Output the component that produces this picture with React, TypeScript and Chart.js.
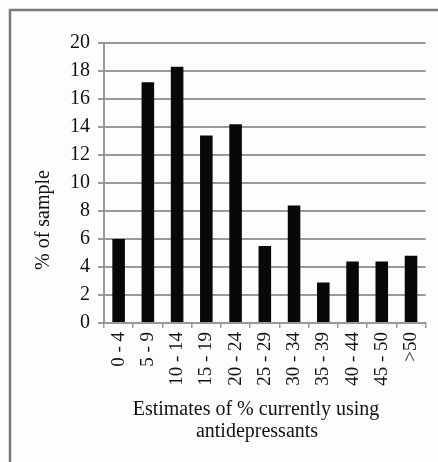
import React, { useEffect, useRef } from "react";
import { Chart, registerables } from "chart.js";

Chart.register(...registerables);

const categories = ["0 - 4", "5 - 9", "10 - 14", "15 - 19", "20 - 24", "25 - 29", "30 - 34", "35 - 39", "40 - 44", "45 - 50", ">50"];
const percentOfSample = [6.0, 17.2, 18.3, 13.4, 14.2, 5.5, 8.4, 2.9, 4.4, 4.4, 4.8];
const yTitle = "% of sample";
const xTitleLines = ["Estimates of % currently using", "antidepressants"];

const FONT = "'Liberation Serif', 'Times New Roman', serif";

const framePlugin = {
  id: "frameAndTitles",
  beforeDraw(chart: any) {
    const ctx = chart.ctx;
    ctx.save();
    ctx.fillStyle = "#fdfdfd";
    ctx.fillRect(0, 0, chart.width, chart.height);
    ctx.strokeStyle = "#7a7a7a";
    ctx.lineWidth = 2.5;
    ctx.beginPath();
    ctx.moveTo(10, chart.height);
    ctx.lineTo(10, 10);
    ctx.lineTo(chart.width, 10);
    ctx.stroke();
    ctx.restore();
  },
  afterDraw(chart: any) {
    const ctx = chart.ctx;
    ctx.save();
    ctx.fillStyle = "#111";
    ctx.font = `20px ${FONT}`;
    ctx.textAlign = "center";
    ctx.textBaseline = "middle";
    ctx.save();
    ctx.translate(44, 220);
    ctx.rotate(-Math.PI / 2);
    ctx.fillText(yTitle, 0, 0);
    ctx.restore();
    ctx.fillText(xTitleLines[0], 256, 410);
    ctx.fillText(xTitleLines[1], 257, 432);
    ctx.restore();
  },
};

export default function App() {
  const ref = useRef<HTMLCanvasElement | null>(null);
  useEffect(() => {
    if (!ref.current) return;
    const chart = new Chart(ref.current, {
      type: "bar",
      data: {
        labels: categories,
        datasets: [
          {
            data: percentOfSample,
            backgroundColor: "#080808",
            borderWidth: 0,
            barPercentage: 0.43,
            categoryPercentage: 1,
          },
        ],
      },
      options: {
        responsive: false,
        animation: false,
        devicePixelRatio: 1,
        layout: { padding: { left: 0, right: 4, top: 43, bottom: 0 } },
        plugins: { legend: { display: false }, tooltip: { enabled: false }, title: { display: false } },
        scales: {
          x: {
            afterFit(scale: any) {
              scale.height = 139;
            },
            grid: {
              drawOnChartArea: false,
              drawTicks: true,
              tickLength: 5,
              color: "#999",
              lineWidth: 1.5,
            },
            border: { color: "#999", width: 2 },
            ticks: {
              color: "#111",
              font: { family: FONT, size: 19 },
              maxRotation: 90,
              minRotation: 90,
              padding: 4,
              autoSkip: false,
            },
          },
          y: {
            min: 0,
            max: 20,
            afterFit(scale: any) {
              scale.width = 104;
            },
            grid: {
              color: "#999",
              lineWidth: 2,
              tickLength: 6,
              drawTicks: true,
            },
            border: { color: "#999", width: 2 },
            ticks: {
              stepSize: 2,
              color: "#111",
              font: { family: FONT, size: 20 },
              padding: 8,
            },
          },
        },
      },
      plugins: [framePlugin],
    });
    return () => chart.destroy();
  }, []);
  return (
    <div style={{ position: "fixed", left: 0, top: 0, width: 438, height: 462 }}>
      <canvas ref={ref} width={438} height={462} style={{ width: 438, height: 462 }} />
    </div>
  );
}
